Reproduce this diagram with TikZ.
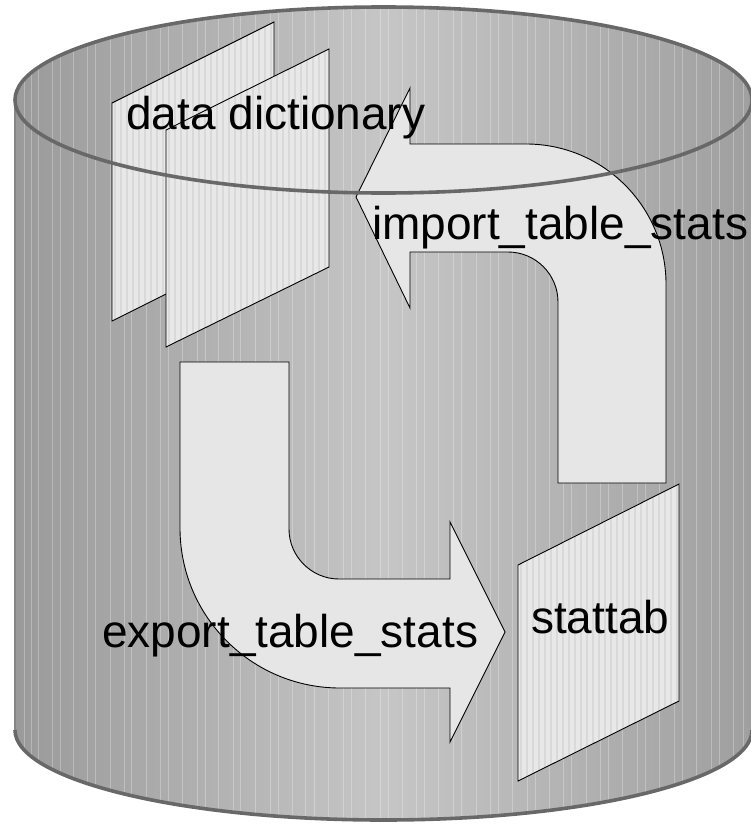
\documentclass[tikz,border=0pt]{standalone}
\usepackage{fontspec}
\setmainfont{Liberation Sans}
\definecolor{rimgray}{HTML}{686868}
\definecolor{bodyedge}{HTML}{9A9A9A}
\definecolor{bodymid}{HTML}{C6C6C6}
\definecolor{pagefill}{HTML}{E8E8E8}
\definecolor{pagestripe}{HTML}{D9D9D9}
\definecolor{arrowfill}{HTML}{E6E6E6}
\begin{document}
\begin{tikzpicture}[x=1pt,y=-1pt,
  rim/.style={draw=rimgray,line width=3.6pt},
  sideline/.style={draw=rimgray!80,line width=1.4pt},
  pagebox/.style={draw=black,line width=0.9pt},
  bigarrow/.style={draw=black,line width=0.9pt,fill=arrowfill},
  lbl/.style={font=\fontsize{46}{50}\selectfont,inner sep=0pt,anchor=base west}]
\useasboundingbox (0,0) rectangle (751,824);
% key points of the cylinder
\coordinate (TL) at (15,100);
\coordinate (TR) at (752,100);
\coordinate (BL) at (15,730);
\coordinate (BR) at (752,730);
% body
\path[left color=bodyedge,right color=bodyedge!95!white,middle color=bodymid]
  (TL) -- (BL) .. controls (15,779.7) and (180,820) .. (383.5,820)
  .. controls (587,820) and (752,779.7) .. (BR) -- (TR)
  .. controls (752,48.6) and (587,7) .. (383.5,7)
  .. controls (180,7) and (15,48.6) .. (TL) -- cycle;
\begin{scope}
  \clip (TL) -- (BL) .. controls (15,779.7) and (180,820) .. (383.5,820)
  .. controls (587,820) and (752,779.7) .. (BR) -- (TR)
  .. controls (752,48.6) and (587,7) .. (383.5,7)
  .. controls (180,7) and (15,48.6) .. (TL) -- cycle;
  \foreach \x in {24,31,38,52,60,73,87,95,110,124,131,146,160,168,182,197,205,218,233,240,255,270,278,292,305,314,328,343,351,365,380,388,402,416,424,438,453,461,476,490,498,512,527,535,549,563,571,586,600,608,622,637,645,659,674,682,696,711,719,733,743}
    \draw[white,opacity=0.28,line width=0.8pt] (\x,0) -- (\x,824);
\end{scope}
\draw[sideline] (TL) -- (BL);
\draw[sideline] (TR) -- (BR);
\draw[rim] (BL) .. controls (15,779.7) and (180,820) .. (383.5,820)
  .. controls (587,820) and (752,779.7) .. (BR);
% pages
\foreach \pts/\xa/\xb in {{(112,103)--(274,22)--(274,240)--(112,321)}/112/274,
                          {(166,130)--(329,49)--(329,267)--(166,347)}/166/329,
                          {(518,565)--(679,484)--(679,701)--(518,781)}/518/679}{
  \fill[pagefill] \pts -- cycle;
  \begin{scope}
    \clip \pts -- cycle;
    \pgfmathsetmacro{\xs}{\xa+3}
    \pgfmathsetmacro{\xt}{\xa+9}
    \foreach \x in {\xs,\xt,...,\xb}
      \draw[pagestripe,line width=2pt] (\x,0) -- (\x,824);
  \end{scope}
  \draw[pagebox] \pts -- cycle;
}
% import arrow (upper)
\draw[bigarrow] (558,483) -- (666,483) -- (666,284)
  .. controls (666,206.7) and (603.3,144) .. (526,144)
  -- (410,144) -- (410,88) -- (356,197) -- (410,308) -- (410,252)
  -- (508,252) .. controls (535.6,252) and (558,274.4) .. (558,302) -- cycle;
% export arrow (lower)
\draw[bigarrow] (180,362) -- (289,362) -- (289,529)
  .. controls (289,556.4) and (311.4,579) .. (339,579)
  -- (450,579) -- (450,522) -- (505,632) -- (450,742) -- (450,688)
  -- (340,688) .. controls (251.6,688) and (180,616.4) .. (180,528) -- cycle;
% top rim
\draw[rim] (TR) .. controls (752,48.6) and (587,7) .. (383.5,7)
  .. controls (180,7) and (15,48.6) .. (TL)
  .. controls (15,151.4) and (180,193) .. (383.5,193)
  .. controls (587,193) and (752,151.4) .. (TR) -- cycle;
% labels
\node[lbl] (dd) at (126,130) {data dictionary};
\node[lbl] (imp) at (372,239) {import\_table\_stats};
\node[lbl] (exp) at (102,647) {export\_table\_stats};
\node[lbl] (st) at (531,633) {stattab};
\end{tikzpicture}
\end{document}
